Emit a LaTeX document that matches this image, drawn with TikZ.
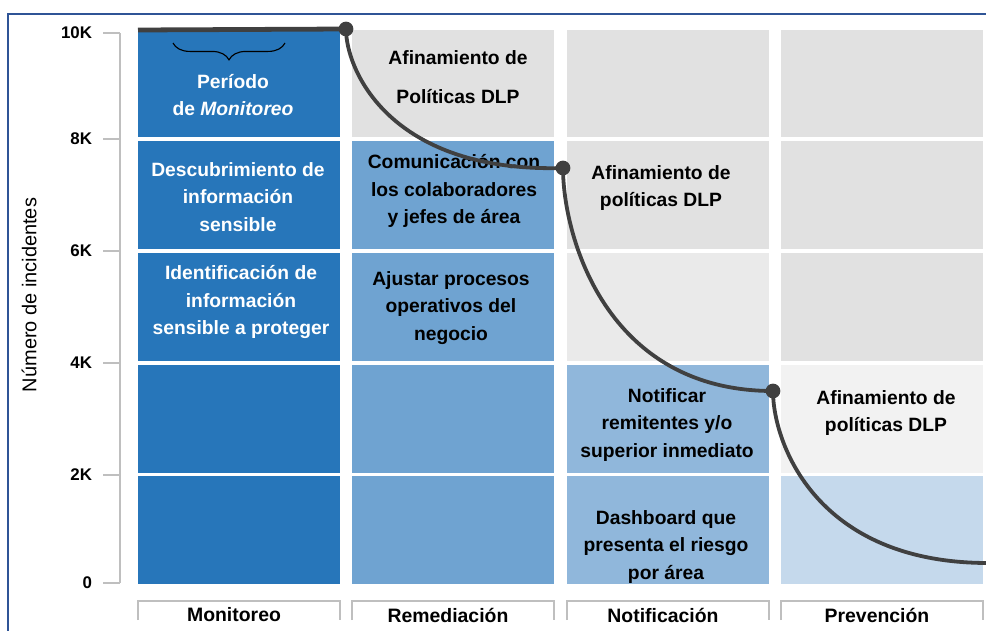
\documentclass[tikz,border=0pt]{standalone}
\usepackage{fontspec}
\setmainfont{Liberation Sans}
\usetikzlibrary{positioning,decorations.pathreplacing}

\definecolor{monblue}{HTML}{2776BA}
\definecolor{remblue}{HTML}{6FA3D1}
\definecolor{notblue}{HTML}{90B7DB}
\definecolor{preblue}{HTML}{C5D9EC}
\definecolor{cellgrey}{HTML}{E1E1E1}
\definecolor{cellgreyb}{HTML}{EAEAEA}
\definecolor{cellgreyc}{HTML}{F2F2F2}
\definecolor{trendgrey}{HTML}{404040}
\definecolor{framecol}{HTML}{2F5496}
\definecolor{axisgrey}{HTML}{BFBFBF}

\tikzset{
	celltxt/.style={align=center,font=\bfseries\fontsize{13.7}{19.6}\selectfont},
	whitetxt/.style={celltxt,text=white},
	ticklbl/.style={anchor=east,font=\bfseries\fontsize{12}{14}\selectfont},
	catlbl/.style={font=\bfseries\fontsize{13.8}{16}\selectfont},
	axisline/.style={draw=axisgrey,line width=0.9pt},
	trend/.style={draw=trendgrey,line width=2.7pt},
	dot/.style={circle,fill=trendgrey,inner sep=0pt,minimum size=10.5pt},
}

\begin{document}
\begin{tikzpicture}[x=0.025cm,y=-0.025cm]
	\useasboundingbox (0,0) rectangle (986,631);

	% frame
	\draw[framecol,line width=1.5pt] (8,631) -- (8,14) -- (986,14);

	% y axis
	\draw[axisline] (120,33) -- (120,583);
	\foreach \y/\l in {33/10K,139/8K,251/6K,363/4K,475/2K,583/0}{
		\draw[axisline] (103,\y) -- (120,\y);
		\node[ticklbl] (t\l) at (97,\y) {\l};
	}
	\node[rotate=90,font=\fontsize{14.2}{16}\selectfont] (ytitle) at (29,295) {Número de incidentes};

	% cells
	\foreach \t/\b in {30/137,141/249,253/361,365/473,476/584}
		\fill[monblue] (138,\t) rectangle (340,\b);
	\fill[cellgrey] (352,30) rectangle (554,137);
	\foreach \t/\b in {141/249,253/361,365/473,476/584}
		\fill[remblue] (352,\t) rectangle (554,\b);
	\fill[cellgrey] (567,30) rectangle (769,137);
	\fill[cellgrey] (567,141) rectangle (769,249);
	\fill[cellgreyb] (567,253) rectangle (769,361);
	\foreach \t/\b in {365/473,476/584}
		\fill[notblue] (567,\t) rectangle (769,\b);
	\foreach \t/\b in {30/137,141/249,253/361}
		\fill[cellgrey] (781,\t) rectangle (983,\b);
	\fill[cellgreyc] (781,365) rectangle (983,473);
	\fill[preblue] (781,476) rectangle (983,584);

	% texts
	\draw[decorate,decoration={brace,mirror,amplitude=12pt},line width=0.8pt] (173,43) -- (285,43);
	\node[whitetxt] (periodo) at (233,95) {Período\\de \textit{Monitoreo}};
	\node[whitetxt] (descub) at (238,197) {Descubrimiento de\\información\\sensible};
	\node[whitetxt] (ident) at (241,302) {Identificación de\\información\\sensible a proteger};
	\node[celltxt] (afin1) at (458,77) {Afinamiento de\\[8.2pt]Políticas DLP};
	\node[celltxt] (comun) at (454,191) {Comunicación con\\los colaboradores\\y jefes de área};
	\node[celltxt] (ajust) at (451,308) {Ajustar procesos\\operativos del\\negocio};
	\node[celltxt] (afin2) at (661,188) {Afinamiento de\\políticas DLP};
	\node[celltxt] (notif) at (667,425) {Notificar\\remitentes y/o\\superior inmediato};
	\node[celltxt] (dash) at (666,547) {Dashboard que\\presenta el riesgo\\por área};
	\node[celltxt] (afin3) at (886,413) {Afinamiento de\\políticas DLP};

	% curve
	\coordinate (k0) at (138,30);
	\coordinate (k1) at (346,29);
	\coordinate (k2) at (563,168);
	\coordinate (k3) at (773,391);
	\coordinate (k4) at (988,563);
	\draw[trend,line width=3.4pt] (k0) -- (k1);
	\draw[trend] (k1) .. controls (346,71) and (391,173) .. (k2);
	\draw[trend] (k2) .. controls (563,235) and (605,391) .. (k3);
	\draw[trend] (k3) .. controls (773,443) and (816,563) .. (k4);
	\node[dot] (d1) at (k1) {};
	\node[dot] (d2) at (k2) {};
	\node[dot] (d3) at (k3) {};

	% categories
	\foreach \x/\lbl in {138/Monitoreo,352/Remediación,567/Notificación,781/Prevención}{
		\draw[axisline] (\x,620) -- (\x,601) -- (\x+202,601) -- (\x+202,620);
		\node[catlbl] (c\x) at (\x+96,615) {\lbl};
	}
\end{tikzpicture}
\end{document}
